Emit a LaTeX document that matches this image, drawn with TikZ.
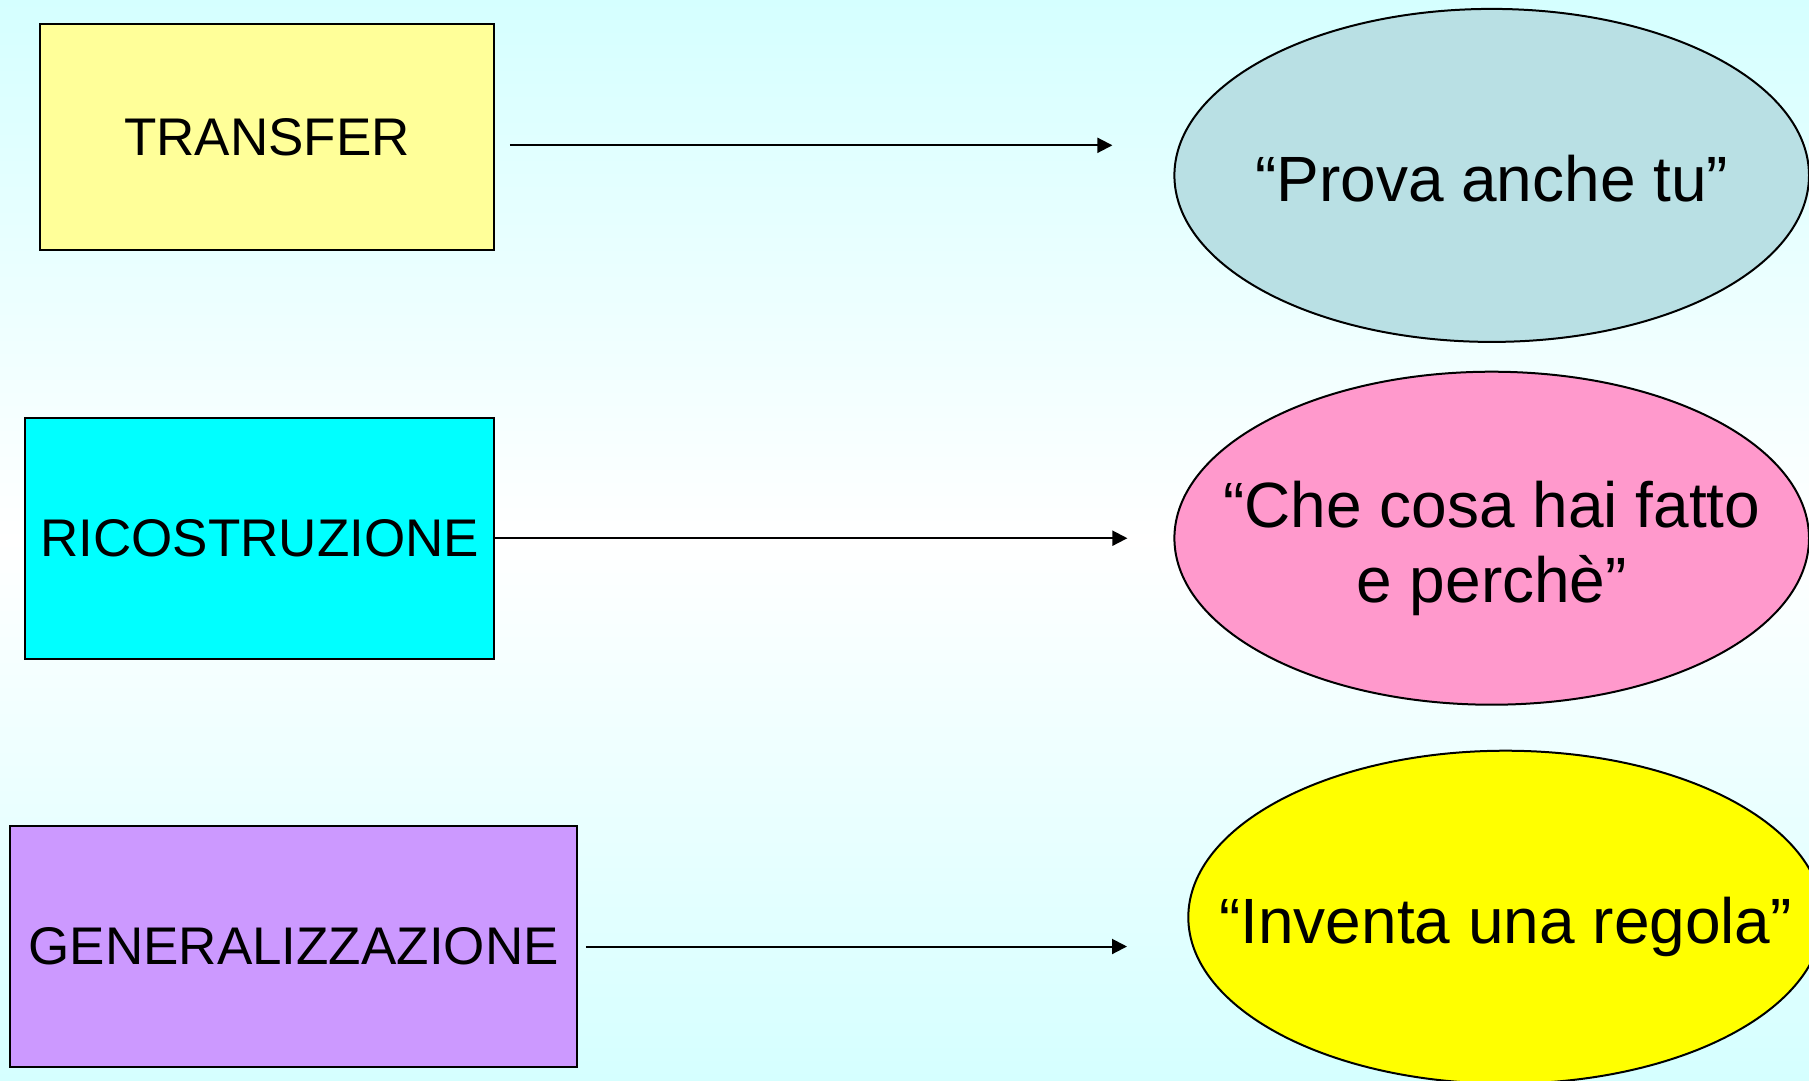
\documentclass[tikz,border=0pt]{standalone}
\usepackage{fontspec}
\setmainfont{Liberation Sans}
\usetikzlibrary{shapes.geometric,arrows.meta,calc}
\definecolor{bgc}{RGB}{213,255,255}
\definecolor{boxyellow}{RGB}{255,255,153}
\definecolor{boxcyan}{RGB}{0,255,255}
\definecolor{boxpurple}{RGB}{204,153,255}
\definecolor{ellblue}{RGB}{185,224,228}
\definecolor{ellpink}{RGB}{255,153,204}
\definecolor{ellyellow}{RGB}{255,255,0}
\tikzset{
  stagebox/.style={draw=black, line width=2pt, rectangle, inner sep=0pt,
    font=\fontsize{53}{60}\selectfont, text=black},
  phrase/.style={draw=black, line width=2pt, ellipse, inner xsep=-100pt, inner ysep=0pt,
    minimum width=634.6pt, minimum height=333pt, align=center,
    text height=52pt, text depth=0pt,
    font=\fontsize{64}{75}\selectfont, text=black},
  arr/.style={line width=2pt, -{Triangle[length=15pt,width=15pt]}}
}
\begin{document}
\begin{tikzpicture}[x=1pt,y=-1pt]
\useasboundingbox (0,0) rectangle (1809,1080);
\clip (0,0) rectangle (1809,1080);
\shade[top color=bgc, bottom color=bgc, middle color=white] (0,0) rectangle (1809,1080);
% boxes
\node[stagebox, fill=boxyellow, minimum width=453.4pt, minimum height=226.2pt] (b1) at (267.1,137.3) {TRANSFER};
\node[stagebox, fill=boxcyan, minimum width=468.4pt, minimum height=241.2pt] (b2) at (259.6,538.2) {RICOSTRUZIONE};
\node[stagebox, fill=boxpurple, minimum width=566.5pt, minimum height=241pt] (b3) at (293.6,946.5) {GENERALIZZAZIONE};
% ellipses
\node[phrase, fill=ellblue] (e1) at (1491.7,175.4) {“Prova anche tu”};
\node[phrase, fill=ellpink, text height=128pt] (e2) at (1491.7,538.2) {“Che cosa hai fatto\\e perchè”};
\node[phrase, fill=ellyellow] (e3) at (1505.6,917.2) {“Inventa una regola”};
% arrows
\draw[arr] ($(b1.east)+(15,8)$) -- ($(b1.east -| e1.west)+(-61,8)$);
\draw[arr] (b2.east) -- ($(b2.east -| e2.west)+(-46,0)$);
\draw[arr] ($(b3.east)+(8,0)$) -- ($(b3.east -| e3.west)+(-60.3,0)$);
\end{tikzpicture}
\end{document}
